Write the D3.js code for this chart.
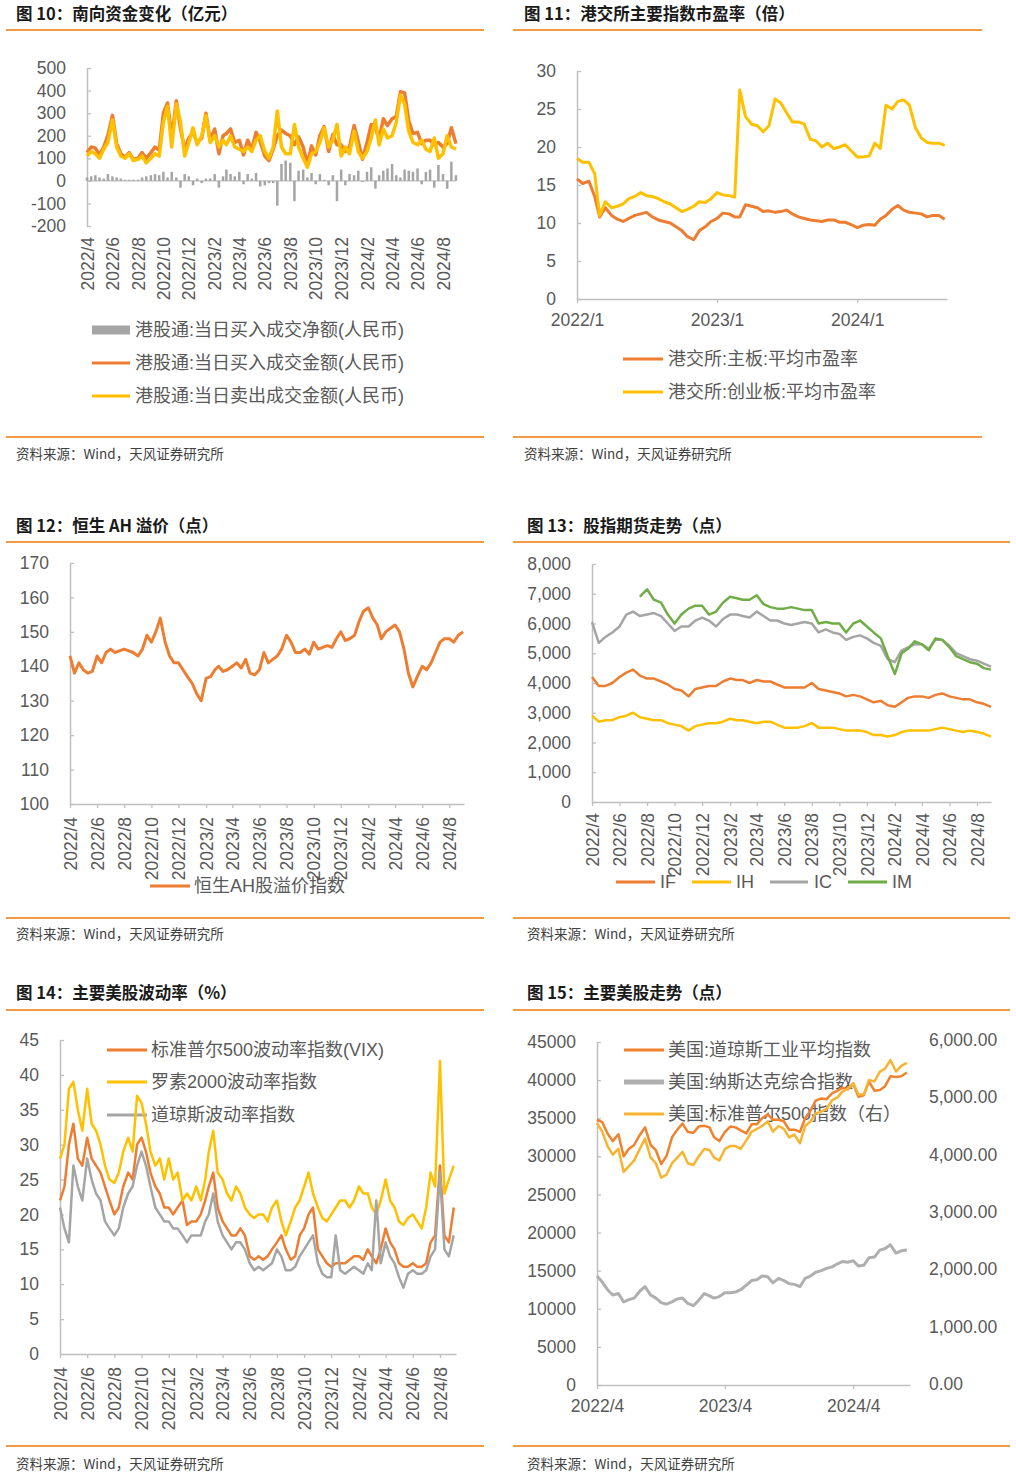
<!DOCTYPE html>
<html><head><meta charset="utf-8">
<script src="https://cdn.jsdelivr.net/npm/d3@7"></script>
<style>body{margin:0;background:#fff;}</style>
</head><body>
<script>
// ---------------- DATA ----------------
const ticks2m = ["2022/4","2022/6","2022/8","2022/10","2022/12","2023/2","2023/4","2023/6","2023/8","2023/10","2023/12","2024/2","2024/4","2024/6","2024/8"];
const ticksPE = ["2022/1","2023/1","2024/1"];
const ticksUS = ["2022/4","2023/4","2024/4"];

// Fig 10 (3 obs / month, 2022/4 - 2024/9)
const hkNet = [15,20,25, 15,10,30, 20,15,10, 5,5,5, 5,15,20, 25,30,25, 40,15,40, 15,-30,30, 20,-20,10, -10,10,10, 30,-30,20, 50,30,20, 40,-15,30, 10,35,-25, -20,-10,-10, -110,75,90, 80,-90,45, 50,15,35, -15,30,5, -20,25,-90, 50,-20,30, 25,45,-5, 40,60,-35, 25,45,55, 75,25,15, 50,45,40, 55,-15,40, 50,-30,70, 30,-35,85, 25];
const hkBuy = [125,150,145, 115,150,200, 290,165,120, 105,125,95, 100,125,100, 125,150,135, 300,345,190, 355,230,140, 190,215,170, 190,300,180, 230,120,200, 210,230,170, 180,115,180, 140,215,175, 110,90,140, 200,225,210, 200,160,195, 150,75,155, 115,200,240, 130,205,160, 160,130,150, 245,175,95, 170,250,235, 185,275,245, 275,285,395, 390,265,210, 215,165,180, 180,160,170, 150,165,235, 165];
const hkSell = [110,130,120, 100,140,170, 270,150,110, 100,120,90, 95,110,80, 100,120,110, 260,330,150, 340,260,110, 170,235,160, 200,290,170, 200,150,180, 160,200,150, 140,130,150, 130,180,200, 130,100,150, 310,150,120, 120,250,150, 100,60,120, 130,170,235, 150,180,250, 110,150,120, 220,130,100, 130,190,270, 160,230,190, 200,260,380, 340,220,170, 160,180,140, 130,190,100, 120,200,150, 140];

// Fig 11 (2 obs / month, 2022/1 - 2024/8)
const peMain = [15.8,15.2, 15.5,13.5, 10.8,12, 11,10.5, 10.2,10.6, 11,11.2, 11.4,10.8, 10.4,10.2, 10,9.5, 9,8.2, 7.8,9, 9.5,10.2, 10.6,11.3, 11.2,10.8, 10.8,12.4, 12.2,12, 11.5,11.6, 11.4,11.5, 11.7,11.2, 10.8,10.6, 10.4,10.3, 10.2,10.4, 10.4,10.1, 10.1,9.8, 9.4,9.7, 9.8,9.7, 10.5,11, 11.8,12.3, 11.7,11.4, 11.3,11.2, 10.8,11, 11,10.5];
const peGEM = [18.5,18, 18,16.5, 11,12.8, 12,12.2, 12.5,13.2, 13.5,14, 13.6,13.5, 13.2,12.8, 12.5,12, 11.5,11.8, 12.2,12.8, 12.7,13.2, 14,13.7, 13.6,13.4, 27.5,24, 23,22.8, 22,22.8, 26.3,25.8, 24.5,23.3, 23.3,23, 21,20.8, 20,20.5, 19.8,20, 20.3,19.5, 18.7,18.7, 18.8,20.5, 19.8,25.5, 25,26, 26.2,25.5, 22.5,21.2, 20.6,20.5, 20.5,20.2];

// Fig 12 (3 obs / month)
const ahPremium = [143,138,141, 139,138,138.5, 143,141,144, 145,144,144.5, 145,144.5,144, 143,145,149, 147,150,154, 147,143,141, 141,139,137, 135,132,130, 136.5,137,139, 140,138.5,139, 140,141,139.5, 142,138,137.5, 139,144,141, 142,143,145, 149,147,144, 144,145,143.5, 147,145,145.5, 146,145.5,148, 150,147.5,148, 149,153,156, 157,154,152, 148,150,151, 152,150,145, 138,134,137, 140,139,141, 144,147,148, 148,147,149, 150];

// Fig 13 (2 obs / month, 2022/4 - 2024/9)
const futIF = [4200,3900, 3900,4000, 4200,4350, 4450,4250, 4150,4150, 4050,3950, 3800,3750, 3550,3800, 3850,3900, 3900,4050, 4150,4100, 4100,4000, 4100,4050, 4050,3950, 3850,3850, 3850,3850, 4000,3800, 3750,3700, 3650,3550, 3600,3550, 3450,3350, 3400,3250, 3200,3350, 3500,3550, 3550,3500, 3600,3650, 3550,3500, 3450,3450, 3350,3300, 3200];
const futIH = [2900,2700, 2750,2750, 2850,2900, 3000,2850, 2800,2750, 2750,2650, 2600,2550, 2400,2550, 2600,2650, 2650,2700, 2800,2750, 2750,2700, 2650,2700, 2700,2600, 2500,2500, 2500,2550, 2650,2500, 2500,2500, 2450,2400, 2400,2400, 2350,2250, 2250,2200, 2250,2350, 2400,2400, 2400,2400, 2450,2500, 2450,2400, 2350,2400, 2350,2300, 2200];
const futIC = [6050,5350, 5550,5700, 5900,6300, 6400,6250, 6300,6350, 6250,6000, 5750,5900, 5900,6100, 6200,6100, 5900,6150, 6300,6300, 6250,6200, 6400,6250, 6100,6100, 6000,5950, 6000,6050, 6000,5700, 5800,5700, 5650,5450, 5550,5600, 5500,5350, 5250,4800, 4700,5100, 5200,5300, 5300,5150, 5450,5450, 5250,5000, 4900,4800, 4750,4650, 4550];
const futIM = [null,null, null,null, null,null, null,6900, 7150,6800, 6700,6300, 6000,6300, 6500,6600, 6600,6300, 6400,6700, 6900,6850, 6800,6800, 6950,6650, 6550,6500, 6500,6550, 6500,6450, 6450,6000, 6050,6000, 6000,5700, 6000,6100, 5900,5700, 5500,4900, 4300,5000, 5150,5400, 5300,5100, 5500,5450, 5200,4900, 4800,4700, 4650,4500, 4450];

// Fig 14 (3 obs / month)
const volVIX = [22,24,30, 33,28,27, 31,28,27, 26,24,22, 20,21,24, 26,25,30, 31,29,26, 24,23,21, 21,20,21, 22,18.5,19, 19,20,22, 24,26,21, 19,18,17, 17,18,17, 14,13.5,14, 13.5,14,15, 16,17,15, 13.5,14,17, 18,20,21, 15,14,13, 12.5,13,13, 13,13.5,14, 14,13.5,15, 14,13,15, 18,16,15, 13,12.5,12.5, 13,12.5,12.5, 13,16,17, 27,17,16, 21];
const volRVX = [28,30,38, 39,35,32, 38,33,32, 30,27,25, 24.5,26,29, 31,29,37, 36,33,29, 27,28,25, 28,25,26, 22,23,22, 24,22,25, 29,32,26, 25,23,22, 24,23,21, 20,19.5,20, 20,19,21, 22,19,17, 19,21,22, 24,26,23, 21,19.5,19, 20,21,22, 22,21,22, 24,23,23, 21,20,22, 25,22,21, 19,18.5,19.5, 20,19,18, 21,26,24, 42,23,25, 27];
const volVXD = [21,18,16, 27,24,22, 28,25,23, 22,19,18, 17,18,21, 23,24,27, 29,27,24, 21,20,19, 19,18,18, 17,16,17, 17,17,19, 20,23,19, 17,16,15, 16,16,15, 13,12,12.5, 12,12.5,13, 15,14,12, 12,12.5,14, 15,16,17, 13,11.5,11, 11,17,12, 11.5,12,12.5, 12,11.5,13, 12,22,13, 16,14,13, 11,9.5,11.5, 12,11.5,11.5, 12,14,15, 26,15,14, 17];

// Fig 15 (2 obs / month)
const usDow = [34800,34500, 33000,32000, 32900,30000, 31000,31500, 32800,33800, 31500,30800, 29000,30000, 32500,33500, 34300,33200, 33100,33900, 34000,33800, 32500,32000, 33200,33900, 33800,33400, 33000,34200, 34200,35000, 35500,34800, 34800,34600, 33500,33500, 33200,35000, 36000,37300, 37600,37500, 38300,38600, 39000,38800, 39500,37800, 38000,39800, 38600,38700, 39200,40500, 40400,40500, 41000];
const usNasdaq = [14300,13500, 12500,11800, 12000,10900, 11200,11400, 12300,12900, 11800,11400, 10800,10600, 10900,11300, 11400,10700, 10400,11100, 12000,11700, 11400,11600, 12100,12100, 12200,12500, 13100,13700, 13800,14300, 14200,13400, 14000,13700, 13300,13200, 12900,14000, 14300,14800, 15000,15300, 15500,15900, 16200,16100, 16300,15600, 15700,16700, 16800,17700, 17900,18400, 17300,17600, 17700];
const usSPX = [4550,4400, 4150,4000, 4100,3700, 3800,3900, 4100,4280, 3950,3850, 3600,3650, 3850,3950, 4050,3850, 3820,3970, 4100,4080, 3950,3900, 4100,4150, 4150,4100, 4250,4400, 4450,4500, 4580,4400, 4500,4450, 4300,4350, 4200,4500, 4580,4720, 4750,4800, 4950,5000, 5100,5150, 5250,5050, 5050,5300, 5280,5450, 5500,5650, 5450,5550, 5600];

// observation dates (sampling grid)
function grid(y0, m0, nMonths, days, extra) {
  const out = [];
  for (let k = 0; k < nMonths; k++) for (const d of days) out.push(new Date(y0, m0 + k, d));
  if (extra) out.push(extra);
  return out;
}
const dates3 = grid(2022, 3, 29, [1, 11, 21], new Date(2024, 8, 1));
const dates2 = grid(2022, 3, 29, [1, 16], new Date(2024, 8, 1));
const datesPE = grid(2022, 0, 32, [1, 16]);
const ym = s => { const [y, m] = s.split("/").map(Number); return new Date(y, m - 1, 1); };

// ---------------- DRAW ----------------
const LAT = "'Liberation Sans','Noto Sans CJK SC',sans-serif";
const CJK = "'Noto Sans CJK SC','Liberation Sans',sans-serif";
const ORANGE = "#ED7D31", YELLOW = "#FFC000", GRAY = "#A5A5A5", GREEN = "#70AD47";
const AX = "#BFBFBF", TXT = "#595959", RULE = "#F39A45";

const svg = d3.select("body").append("svg").attr("width", 1016).attr("height", 1476);
svg.append("rect").attr("width", 1016).attr("height", 1476).attr("fill", "#fff");

function frame(title, tx, ty, x1, x2, yTop, yBot, ySrc) {
  svg.append("text").attr("x", tx).attr("y", ty).attr("dy", "0.35em").text(title)
    .attr("font-family", CJK).attr("font-weight", "bold").attr("font-size", 16.5).attr("fill", "#1a1a1a");
  svg.append("line").attr("x1", x1).attr("x2", x2).attr("y1", yTop).attr("y2", yTop).attr("stroke", RULE).attr("stroke-width", 2);
  svg.append("line").attr("x1", x1).attr("x2", x2).attr("y1", yBot).attr("y2", yBot).attr("stroke", RULE).attr("stroke-width", 2);
  svg.append("text").attr("x", tx).attr("y", ySrc).attr("dy", "0.35em").text("资料来源：Wind，天风证券研究所")
    .attr("font-family", CJK).attr("font-size", 13.5).attr("fill", "#404040");
}
function styleAxis(g) {
  g.attr("font-family", LAT).attr("font-size", 17.5);
  g.selectAll(".domain").attr("stroke", AX).attr("stroke-width", 1.5);
  g.selectAll(".tick line").attr("stroke", AX).attr("stroke-width", 1.3);
  g.selectAll(".tick text").attr("fill", TXT);
}
function yAxisLeft(scale, x, vals, fmt) {
  const g = svg.append("g").attr("transform", `translate(${x},0)`)
    .call(d3.axisLeft(scale).tickValues(vals).tickFormat(fmt).tickSizeInner(-4).tickSizeOuter(0).tickPadding(21));
  styleAxis(g); return g;
}
function xAxisRot(scale, y, labels, offset, showLine) {
  const g = svg.append("g").attr("transform", `translate(0,${y})`)
    .call(d3.axisBottom(scale).tickValues(labels.map(ym)).tickFormat((d, i) => labels[i]).tickSizeInner(4).tickSizeOuter(0));
  styleAxis(g);
  g.selectAll(".tick text").attr("transform", `translate(0,${offset}) rotate(-90)`)
    .attr("x", 0).attr("y", 0).attr("dy", "0.35em").attr("text-anchor", "end");
  if (!showLine) { g.select(".domain").remove(); g.selectAll(".tick line").remove(); }
  return g;
}
function xAxisFlat(scale, y, labels, pad) {
  const g = svg.append("g").attr("transform", `translate(0,${y})`)
    .call(d3.axisBottom(scale).tickValues(labels.map(ym)).tickFormat((d, i) => labels[i]).tickSizeInner(4).tickSizeOuter(0).tickPadding(pad));
  styleAxis(g); return g;
}
function drawLine(xs, ys, dates, vals, color, w) {
  const line = d3.line().defined(d => d[1] != null).x(d => xs(d[0])).y(d => ys(d[1]));
  svg.append("path").datum(d3.zip(dates, vals)).attr("d", line).attr("fill", "none")
    .attr("stroke", color).attr("stroke-width", w).attr("stroke-linejoin", "round");
}
function legend(x1, x2, y, color, w, label, tx, rect) {
  if (rect) svg.append("rect").attr("x", x1).attr("y", y - 4.5).attr("width", x2 - x1).attr("height", 9).attr("fill", color);
  else svg.append("line").attr("x1", x1).attr("x2", x2).attr("y1", y).attr("y2", y).attr("stroke", color).attr("stroke-width", w);
  svg.append("text").attr("x", tx).attr("y", y).attr("dy", "0.35em").text(label)
    .attr("font-family", LAT).attr("font-size", 18).attr("fill", TXT);
}

// ===== Fig 10 =====
frame("图 10：南向资金变化（亿元）", 16, 14, 6, 484, 30, 437, 454);
{
  const x = d3.scaleTime().domain([new Date(2022, 3, 1), new Date(2024, 7, 1)]).range([87, 443]);
  const y = d3.scaleLinear().domain([-200, 500]).range([226, 68]);
  yAxisLeft(y, 87, [-200, -100, 0, 100, 200, 300, 400, 500], d => String(d));
  xAxisRot(x, 226, ticks2m, 11, false);
  svg.append("line").attr("x1", 87).attr("x2", 456).attr("y1", y(0)).attr("y2", y(0)).attr("stroke", AX).attr("stroke-width", 1.3);
  svg.append("g").selectAll("rect").data(d3.zip(dates3, hkNet)).join("rect")
    .attr("x", d => x(d[0]) - 1.25).attr("width", 2.5)
    .attr("y", d => Math.min(y(0), y(d[1]))).attr("height", d => Math.abs(y(d[1]) - y(0)))
    .attr("fill", GRAY);
  drawLine(x, y, dates3, hkBuy, ORANGE, 3.5);
  drawLine(x, y, dates3, hkSell, YELLOW, 3.5);
  legend(92, 130, 330, GRAY, 0, "港股通:当日买入成交净额(人民币)", 135, true);
  legend(92, 130, 363, ORANGE, 3, "港股通:当日买入成交金额(人民币)", 135);
  legend(92, 130, 396, YELLOW, 3, "港股通:当日卖出成交金额(人民币)", 135);
}

// ===== Fig 11 =====
frame("图 11：港交所主要指数市盈率（倍）", 524, 14, 513, 982, 30, 437, 454);
{
  const x = d3.scaleTime().domain([new Date(2022, 0, 1), new Date(2024, 7, 22)]).range([577, 947]);
  const y = d3.scaleLinear().domain([0, 30]).range([299, 71]);
  yAxisLeft(y, 577, [0, 5, 10, 15, 20, 25, 30], d => String(d));
  xAxisFlat(x, 299, ticksPE, 11);
  drawLine(x, y, datesPE, peMain, ORANGE, 3);
  drawLine(x, y, datesPE, peGEM, YELLOW, 3);
  legend(623, 663, 359, ORANGE, 3, "港交所:主板:平均市盈率", 668);
  legend(623, 663, 392, YELLOW, 3, "港交所:创业板:平均市盈率", 668);
}

// ===== Fig 12 =====
frame("图 12：恒生 AH 溢价（点）", 16, 526, 6, 484, 542, 918, 934);
{
  const x = d3.scaleTime().domain([new Date(2022, 3, 1), new Date(2024, 8, 3)]).range([70, 464]);
  const y = d3.scaleLinear().domain([100, 170]).range([804, 563]);
  yAxisLeft(y, 70, [100, 110, 120, 130, 140, 150, 160, 170], d => String(d));
  legend(150, 190, 886, ORANGE, 3, "恒生AH股溢价指数", 194);
  xAxisRot(x, 804, ticks2m, 13, true);
  drawLine(x, y, dates3, ahPremium, ORANGE, 3);
}

// ===== Fig 13 =====
frame("图 13：股指期货走势（点）", 527, 526, 513, 1010, 542, 918, 934);
{
  const x = d3.scaleTime().domain([new Date(2022, 3, 1), new Date(2024, 8, 1)]).range([592, 991]);
  const y = d3.scaleLinear().domain([0, 8000]).range([802, 564]);
  yAxisLeft(y, 592, d3.range(0, 8001, 1000), d3.format(","));
  legend(616, 655, 882, ORANGE, 3, "IF", 660);
  legend(692, 731, 882, YELLOW, 3, "IH", 736);
  legend(770, 808, 882, GRAY, 3, "IC", 814);
  legend(848, 887, 882, GREEN, 3, "IM", 892);
  xAxisRot(x, 802, ticks2m, 11, true);
  drawLine(x, y, dates2, futIF, ORANGE, 2.5);
  drawLine(x, y, dates2, futIH, YELLOW, 2.5);
  drawLine(x, y, dates2, futIC, GRAY, 2.5);
  drawLine(x, y, dates2, futIM, GREEN, 2.5);
}

// ===== Fig 14 =====
frame("图 14：主要美股波动率（%）", 16, 993, 6, 484, 1010, 1446, 1464);
{
  const x = d3.scaleTime().domain([new Date(2022, 3, 1), new Date(2024, 8, 6)]).range([60, 456]);
  const y = d3.scaleLinear().domain([0, 45]).range([1354, 1040]);
  yAxisLeft(y, 60, d3.range(0, 46, 5), d => String(d));
  xAxisRot(x, 1354, ticks2m, 13, true);
  legend(107, 147, 1050, ORANGE, 3, "标准普尔500波动率指数(VIX)", 151);
  legend(107, 147, 1082, YELLOW, 3, "罗素2000波动率指数", 151);
  legend(107, 147, 1115, GRAY, 3, "道琼斯波动率指数", 151);
  drawLine(x, y, dates3, volVIX, ORANGE, 2.5);
  drawLine(x, y, dates3, volRVX, YELLOW, 2.5);
  drawLine(x, y, dates3, volVXD, GRAY, 2.5);
}

// ===== Fig 15 =====
frame("图 15：主要美股走势（点）", 527, 993, 513, 1010, 1010, 1446, 1464);
{
  const x = d3.scaleTime().domain([new Date(2022, 3, 1), new Date(2024, 8, 10)]).range([597, 910]);
  const yL = d3.scaleLinear().domain([0, 45000]).range([1385, 1042]);
  const yR = d3.scaleLinear().domain([0, 6000]).range([1384, 1040]);
  yAxisLeft(yL, 597, d3.range(0, 45001, 5000), d => String(d));
  const gR = svg.append("g").attr("transform", "translate(910,0)")
    .call(d3.axisRight(yR).tickValues(d3.range(0, 6001, 1000)).tickFormat(d3.format(",.2f")).tickSize(0).tickPadding(19));
  styleAxis(gR); gR.select(".domain").remove();
  xAxisFlat(x, 1385, ticksUS, 11);
  legend(624, 664, 1050, "#F0822D", 3, "美国:道琼斯工业平均指数", 668);
  legend(624, 664, 1082, "#AFAFAF", 5, "美国:纳斯达克综合指数", 668);
  legend(624, 664, 1114, "#F8B32F", 3, "美国:标准普尔500指数（右）", 668);
  drawLine(x, yL, dates2, usDow, "#F0822D", 2.5);
  drawLine(x, yL, dates2, usNasdaq, "#AFAFAF", 3);
  drawLine(x, yR, dates2, usSPX, "#F8B32F", 2.5);
}
</script>
</body></html>
